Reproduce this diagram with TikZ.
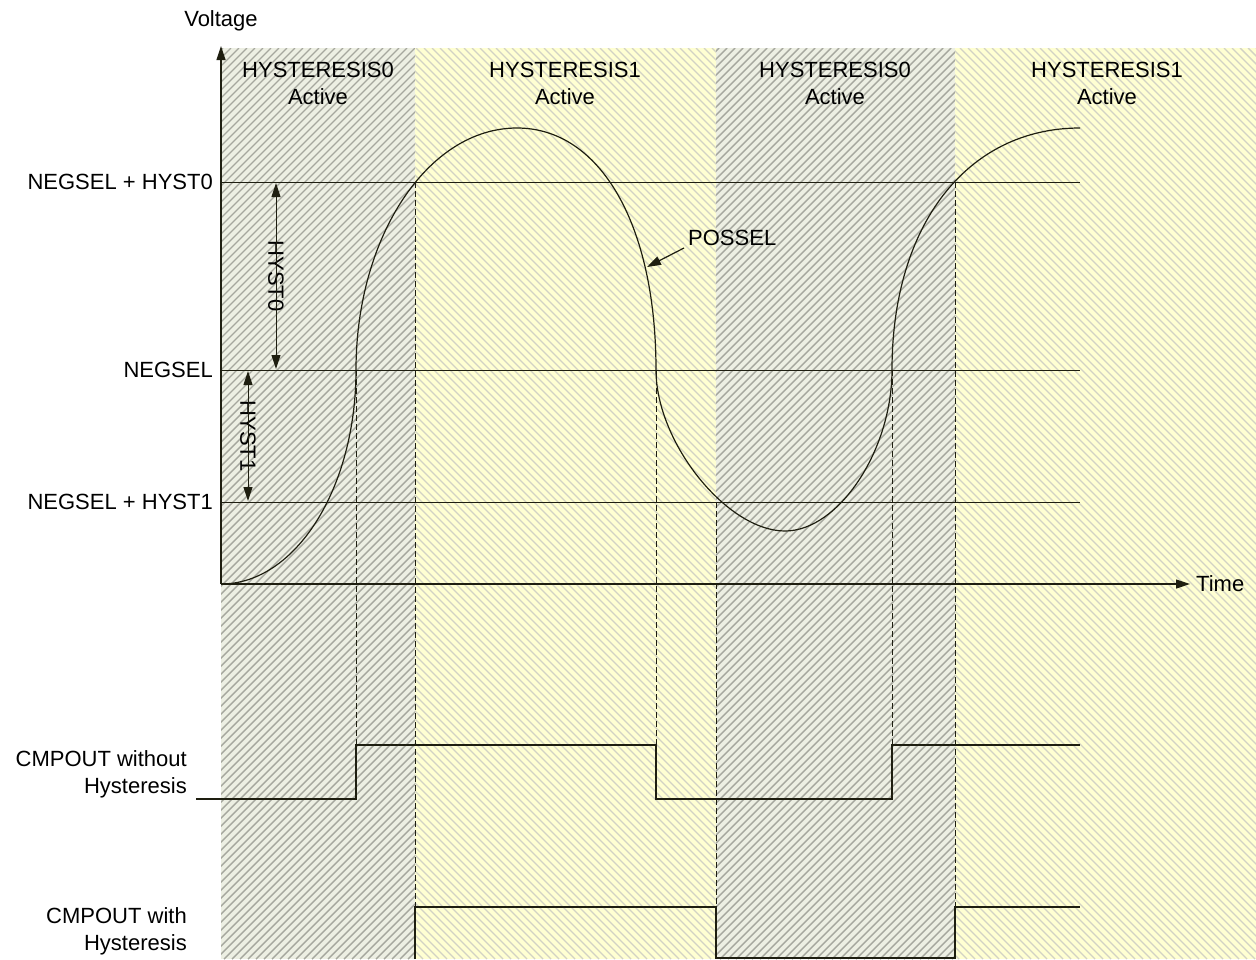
\documentclass[tikz,border=0pt]{standalone}
\usepackage{fontspec}
\setmainfont{Liberation Sans}
\usetikzlibrary{arrows.meta}
\definecolor{graybg}{HTML}{EDEFE3}
\definecolor{grayln}{HTML}{A6A79E}
\definecolor{yelbg}{HTML}{FFFFD2}
\definecolor{yelln}{HTML}{D2D2C4}
\definecolor{ink}{HTML}{1E1E10}
\tikzset{
  txt/.style={font=\fontsize{22}{27}\selectfont, text=black, inner sep=0pt, align=center},
  lbl/.style={txt, anchor=east, align=right},
  wire/.style={draw=ink, line width=1.2pt},
  dashline/.style={draw=ink, line width=1pt, dash pattern=on 6pt off 3pt},
  tip/.style={-{Triangle[length=14pt,width=9pt]}},
}
\begin{document}
\begin{tikzpicture}[x=1pt,y=-1pt]
\useasboundingbox (0,0) rectangle (1256,959);
% ---- shaded regions ----
\newcommand{\grayband}[2]{%
  \fill[graybg] (#1,48) rectangle (#2,959);
  \begin{scope}
    \clip (#1,48) rectangle (#2,959);
    \foreach \k in {-960,-952,...,1260} {\draw[grayln, line width=1.4pt] (\k,959) -- ++(911,-911);}
  \end{scope}}
\newcommand{\yelband}[2]{%
  \fill[yelbg] (#1,48) rectangle (#2,959);
  \begin{scope}
    \clip (#1,48) rectangle (#2,959);
    \foreach \k in {-960,-952,...,1260} {\draw[yelln, line width=1.4pt] (\k,48) -- ++(911,911);}
  \end{scope}}
\grayband{221}{415}
\yelband{415}{716}
\grayband{716}{955}
\yelband{955}{1256}
% ---- region titles ----
\node[txt] (r1) at (318,83) {HYSTERESIS0\\Active};
\node[txt] (r2) at (565,83) {HYSTERESIS1\\Active};
\node[txt] (r3) at (835,83) {HYSTERESIS0\\Active};
\node[txt] (r4) at (1107,83) {HYSTERESIS1\\Active};
% ---- axes ----
\coordinate (O) at (221,584);
\coordinate (ytop) at (221,46);
\coordinate (xend) at (1190,584);
\node[txt, anchor=south] (vlab) at (221,31) {Voltage};
\node[txt, anchor=west] (tlab) at (1196,584) {Time};
\draw[wire, tip] (O) -- (ytop);
\draw[wire, tip] (O) -- (xend);
% ---- levels ----
\node[lbl] (h0) at (213,182) {NEGSEL + HYST0};
\node[lbl] (ng) at (213,370) {NEGSEL};
\node[lbl] (h1) at (213,502) {NEGSEL + HYST1};
\coordinate (h0a) at (221,182); \coordinate (h0b) at (1080,182);
\coordinate (nga) at (221,370); \coordinate (ngb) at (1080,370);
\coordinate (h1a) at (221,502); \coordinate (h1b) at (1080,502);
\draw[wire, line width=1pt] (h0a) -- (h0b);
\draw[wire, line width=1pt] (nga) -- (ngb);
\draw[wire, line width=1pt] (h1a) -- (h1b);
% ---- dimension arrows ----
\node[txt, rotate=-90] (d0) at (276,276) {HYST0};
\coordinate (d0t) at (276,183); \coordinate (d0b) at (276,369);
\draw[wire, line width=1pt, tip] (d0.east) -- (d0t);
\draw[wire, line width=1pt, tip] (d0.west) -- (d0b);
\node[txt, rotate=-90] (d1) at (248,436) {HYST1};
\coordinate (d1t) at (248,371); \coordinate (d1b) at (248,501);
\draw[wire, line width=1pt, tip] (d1.east) -- (d1t);
\draw[wire, line width=1pt, tip] (d1.west) -- (d1b);
% ---- dashed markers ----
\draw[dashline] (356,370) -- (356,745);
\draw[dashline] (415,182) -- (415,959);
\draw[dashline] (656,370) -- (656,745);
\draw[dashline] (716,502) -- (716,959);
\draw[dashline] (892,370) -- (892,745);
\draw[dashline] (955,182) -- (955,959);
% ---- POSSEL curve ----
\draw[wire] (O)
  .. controls (295.6,584) and (356,488.2) .. (356,370)
  .. controls (356,236.3) and (428.1,128) .. (517,128)
  .. controls (600.4,128) and (656,224.8) .. (656,370)
  .. controls (656,442.5) and (727,531) .. (785,531)
  .. controls (838.5,531) and (892,450.5) .. (892,370)
  .. controls (892,224.8) and (967.2,128) .. (1080,128);
\node[txt, anchor=west] (ps) at (688,238) {POSSEL};
\coordinate (pst) at (647,267);
\draw[wire, line width=1.2pt, tip] (684,248) -- (pst);
% ---- outputs ----
\node[lbl] (c1) at (187,774) {CMPOUT without\\Hysteresis};
\node[lbl] (c2) at (187,931) {CMPOUT with\\Hysteresis};
\draw[wire] (196,799) -- (356,799) -- (356,745) -- (656,745) -- (656,799)
  -- (892,799) -- (892,745) -- (1080,745);
\draw[wire] (415,959) -- (415,907) -- (716,907) -- (716,958) -- (955,958)
  -- (955,907) -- (1080,907);
\end{tikzpicture}
\end{document}
